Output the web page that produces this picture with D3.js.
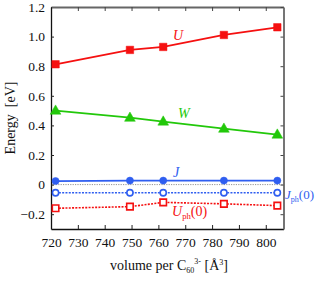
<!DOCTYPE html>
<meta charset='utf-8'>
<style>
body { margin: 0; background: #fff; }
svg, svg text { font-family: "Liberation Serif", "Times New Roman", Times, "DejaVu Serif", serif; }
</style>
<svg width='315' height='282' font-family='Liberation Serif, serif'></svg>
<script src='https://d3js.org/d3.v7.min.js'></script>
<script>
// volumes (A^3) and energies (eV)
var volume = [721.7, 749.4, 761.8, 784.4, 804.3];
var U   = [0.813, 0.91, 0.93, 1.011, 1.063];
var W   = [0.50, 0.452, 0.426, 0.378, 0.338];
var J   = [0.024, 0.027, 0.027, 0.027, 0.027];
var Jph = [-0.055, -0.055, -0.055, -0.055, -0.055];
var Uph = [-0.16, -0.149, -0.12, -0.13, -0.142];
var xTicks = [720, 730, 740, 750, 760, 770, 780, 790, 800];
var yTicks = [-0.2, 0, 0.2, 0.4, 0.6, 0.8, 1.0, 1.2];

var red = '#f51010', green = '#22c80a', blue = '#2f5ef0';
var serif = 'Liberation Serif';

var svg = d3.select('svg'),
    pL = 51, pR = 283.5, pT = 7, pB = 229;

var x = d3.scaleLinear().domain([720, 806.6]).range([pL, pR]);
var y = d3.scaleLinear().domain([-0.3, 1.2]).range([pB, pT]);

// zero reference line
svg.append('line')
    .attr('x1', pL).attr('x2', pR)
    .attr('y1', y(0)).attr('y2', y(0))
    .attr('stroke', '#777').attr('stroke-width', 0.8)
    .attr('stroke-dasharray', '1.2,1.2');

// axes, ticks pointing inward
var fmtY = function(d) { return d === 0 ? '0' : d3.format('.1f')(d); };
var gB = svg.append('g').attr('transform', 'translate(0,' + pB + ')')
    .call(d3.axisBottom(x).tickValues(xTicks).tickSizeInner(-4).tickSizeOuter(0).tickPadding(8));
var gT = svg.append('g').attr('transform', 'translate(0,' + pT + ')')
    .call(d3.axisTop(x).tickValues(xTicks).tickSizeInner(-4).tickSizeOuter(0).tickFormat(''));
var gL = svg.append('g').attr('transform', 'translate(' + pL + ',0)')
    .call(d3.axisLeft(y).tickValues(yTicks).tickSizeInner(-3).tickSizeOuter(0).tickPadding(6).tickFormat(fmtY));
var gR = svg.append('g').attr('transform', 'translate(' + pR + ',0)')
    .call(d3.axisRight(y).tickValues(yTicks).tickSizeInner(-3).tickSizeOuter(0).tickFormat(''));

[gB, gL].forEach(function(g) {
  g.attr('font-family', serif).attr('font-size', 13.5);
  g.select('.domain').attr('stroke', '#111').attr('stroke-width', 1.3);
  g.selectAll('.tick line').attr('stroke', '#222');
  g.selectAll('text').attr('font-family', serif).attr('font-size', 13.5).attr('fill', '#111');
});
[gT, gR].forEach(function(g) {
  g.select('.domain').attr('stroke', '#666').attr('stroke-width', 1.8);
  g.selectAll('.tick line').attr('stroke', '#444');
});
gL.selectAll('.tick').filter(function(d) { return d === 1.2; }).select('line').remove();

var line = d3.line()
    .x(function(d, i) { return x(volume[i]); })
    .y(function(d) { return y(d); });

function series(vals, color, dash, marker, filled) {
  svg.append('path').datum(vals)
      .attr('d', line)
      .attr('fill', 'none')
      .attr('stroke', color)
      .attr('stroke-width', dash ? 1.6 : 1.8)
      .attr('stroke-dasharray', dash || null);
  var size = marker === d3.symbolTriangle ? 50 : (marker === d3.symbolCircle ? (filled ? 40 : 30) : (filled ? 56 : 42));
  svg.append('g').selectAll('path')
      .data(vals)
      .join('path')
      .attr('transform', function(d, i) {
        var dy = marker === d3.symbolTriangle ? 0.5 : 0;
        return 'translate(' + x(volume[i]) + ',' + (y(d) + dy) + ')';
      })
      .attr('d', d3.symbol().type(marker).size(size))
      .attr('fill', filled ? color : '#fff')
      .attr('stroke', color)
      .attr('stroke-width', filled ? 0.5 : 1.6);
}

series(U, red, null, d3.symbolSquare, true);
series(W, green, null, d3.symbolTriangle, true);
series(J, blue, null, d3.symbolCircle, true);
series(Jph, blue, '2,1.3', d3.symbolCircle, false);
series(Uph, red, '2,1.3', d3.symbolSquare, false);

// series labels
function label(xp, yp, color, main, sub, tail, fs) {
  fs = fs || 14;
  var t = svg.append('text').attr('x', xp).attr('y', yp)
      .attr('font-family', serif)
      .attr('fill', color).attr('font-size', fs);
  t.append('tspan').attr('font-style', 'italic').text(main);
  if (sub) t.append('tspan').attr('font-size', fs * 0.62).attr('dy', 3).text(sub);
  if (tail) t.append('tspan').attr('dy', sub ? -3 : 0).text(tail);
}
label(173, 40, red, 'U');
label(178, 118, green, 'W');
label(173, 177, blue, 'J');
label(285, 199, blue, 'J', 'ph', '(0)', 13);
label(172, 216, red, 'U', 'ph', '(0)');

// axis titles
svg.append('text')
    .attr('transform', 'translate(15,' + ((pT + pB) / 2) + ') rotate(-90)')
    .attr('text-anchor', 'middle')
    .attr('font-family', serif)
    .attr('font-size', 14).attr('fill', '#111')
    .attr('xml:space', 'preserve')
    .text('Energy  [eV]');

var xt = svg.append('text')
    .attr('x', 169).attr('y', 270)
    .attr('text-anchor', 'middle')
    .attr('font-family', serif)
    .attr('font-size', 14).attr('fill', '#111');
xt.append('tspan').text('volume per C');
xt.append('tspan').attr('font-size', 8).attr('dy', 3).text('60');
xt.append('tspan').attr('font-size', 8).attr('dy', -9).text('3-');
xt.append('tspan').attr('dy', 6).text(' [Å');
xt.append('tspan').attr('font-size', 8).attr('dy', -5).text('3');
xt.append('tspan').attr('dy', 5).text(']');
</script>
